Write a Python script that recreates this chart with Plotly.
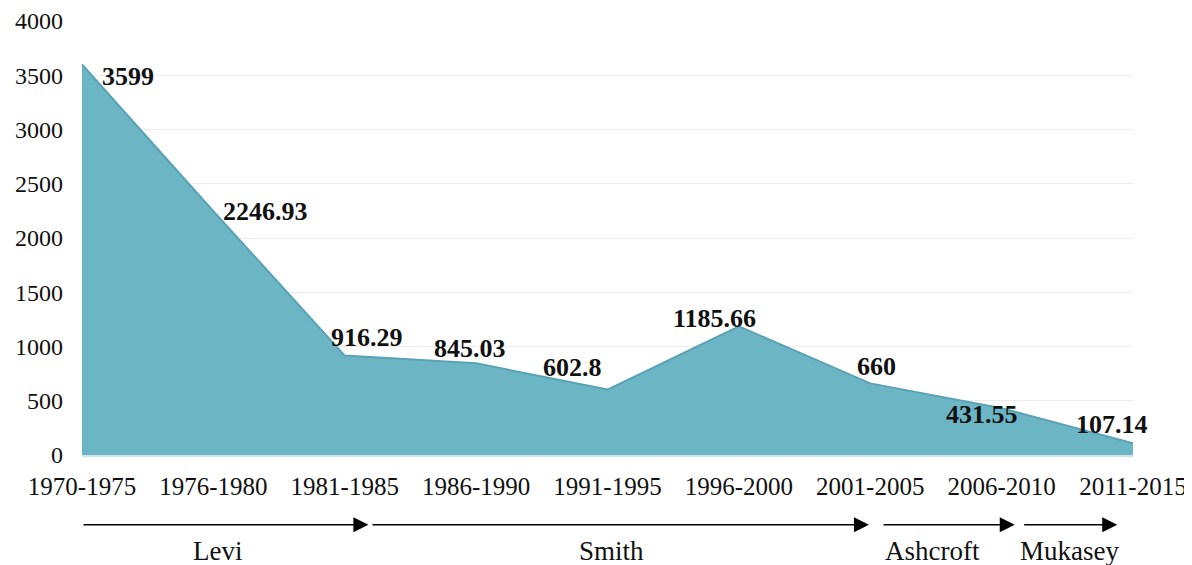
import plotly.graph_objects as go

periods = ["1970-1975", "1976-1980", "1981-1985", "1986-1990", "1991-1995",
           "1996-2000", "2001-2005", "2006-2010", "2011-2015"]
values = [3599, 2246.93, 916.29, 845.03, 602.8, 1185.66, 660, 431.55, 107.14]
value_labels = ["3599", "2246.93", "916.29", "845.03", "602.8", "1185.66", "660", "431.55", "107.14"]

# label offsets (pixels) for each data label
label_dx = [46, 52, 22, -6, -35, -24, 6, -20, -21]
label_dy = [-12, 0, 18, 15, 22, 8, 17, -6, 19]

# attorney general eras: name, start, end, label position (category units)
eras = ["Levi", "Smith", "Ashcroft", "Mukasey"]
era_start = [0.0, 2.2, 6.09, 7.16]
era_end = [2.18, 5.99, 7.1, 7.88]
era_label = [1.03, 4.03, 6.47, 7.52]

SERIF = "Liberation Serif, Times New Roman, serif"

fig = go.Figure()
fig.add_trace(go.Scatter(
    x=list(range(len(periods))), y=values,
    mode="lines", fill="tozeroy",
    fillcolor="#6cb5c4",
    line=dict(color="#5aa2b6", width=2),
    hoverinfo="skip", showlegend=False,
))

annotations = []
for i, (v, t) in enumerate(zip(values, value_labels)):
    annotations.append(dict(
        x=i, y=v, xref="x", yref="y", text="<b>%s</b>" % t, showarrow=False,
        xanchor="center", yanchor="middle",
        xshift=label_dx[i], yshift=label_dy[i],
        font=dict(family=SERIF, size=26, color="#111111"),
    ))

for name, s, e, lp in zip(eras, era_start, era_end, era_label):
    annotations.append(dict(
        x=e, y=-0.161, xref="x", yref="paper",
        ax=s, ay=0, axref="x", ayref="pixel",
        showarrow=True, arrowhead=2, arrowsize=2, arrowwidth=1.5,
        arrowcolor="#000000", text="",
    ))
    annotations.append(dict(
        x=lp, y=-0.221, xref="x", yref="paper", text=name, showarrow=False,
        xanchor="center", yanchor="middle",
        font=dict(family=SERIF, size=27, color="#111111"),
    ))

fig.update_layout(
    width=1192, height=565,
    margin=dict(l=74, r=67, t=13, b=118),
    paper_bgcolor="white", plot_bgcolor="white",
    annotations=annotations,
    xaxis=dict(
        tickmode="array", tickvals=list(range(len(periods))), ticktext=periods,
        range=[0, len(periods) - 1], showgrid=False, zeroline=False,
        showline=False, ticks="", ticklabelstandoff=14, automargin=False,
        ticklabeloverflow="allow",
        tickfont=dict(family=SERIF, size=25, color="#111111"),
    ),
    yaxis=dict(
        range=[0, 4000], dtick=500, showgrid=True, gridcolor="#ececec", gridwidth=1,
        zeroline=True, zerolinecolor="#cfe3ea", zerolinewidth=3, showline=False,
        ticks="", ticklabelstandoff=18, automargin=False,
        tickfont=dict(family=SERIF, size=24, color="#111111"),
    ),
)

fig.write_html("out.html")
